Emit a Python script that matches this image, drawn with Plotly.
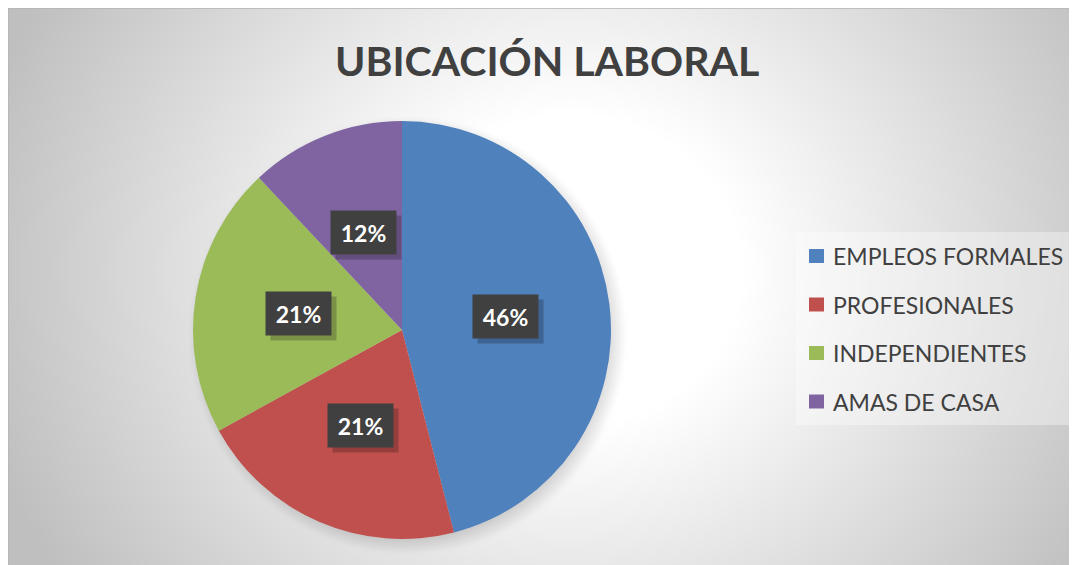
import numpy as np
import plotly.graph_objects as go

# ---- data ----
categories = ["EMPLEOS FORMALES", "PROFESIONALES", "INDEPENDIENTES", "AMAS DE CASA"]
values = [46, 21, 21, 12]
colors = ["#4F81BD", "#C0504D", "#9BBB59", "#8064A2"]
title_text = "UBICACIÓN LABORAL"

# ---- layout constants (page pixel coordinates) ----
VW, VH = 1077, 565         # browser viewport
OFF = 8                    # default page body margin
FW, FH = VW - OFF, VH - OFF  # figure size
CX, CY, R = 402, 330, 209  # pie centre / radius (page px)
FONT = "Lato, 'Open Sans', sans-serif"
TXT = "#404040"

# ---- background radial gradient (+ soft pie shadow) ----
xs = np.arange(OFF, VW + 4, 4.0)
ys = np.arange(OFF, VH + 4, 4.0)
XX, YY = np.meshgrid(xs, ys)
d = np.hypot(XX - 570, (YY - 270) * 1.1)
g = 255 - 64 * np.clip((d - 170) / 440, 0, 1)
ds = np.hypot(XX - (CX + 5), YY - (CY + 5))
shadow = 40 * np.clip((R + 10 - ds) / 20, 0, 1)
g = g - shadow

fig = go.Figure()
fig.add_trace(go.Heatmap(
    x=xs, y=ys, z=g, zmin=0, zmax=255,
    colorscale=[[0, "rgb(0,0,0)"], [1, "rgb(255,255,255)"]],
    showscale=False, hoverinfo="skip", zsmooth="best",
))

# ---- pie ----
dom_x = [(CX - R - OFF) / FW, (CX + R - OFF) / FW]
dom_y = [1 - (CY + R - OFF) / FH, 1 - (CY - R - OFF) / FH]
fig.add_trace(go.Pie(
    labels=categories, values=values, sort=False, direction="clockwise",
    rotation=0, marker=dict(colors=colors, line=dict(width=0)),
    textinfo="none", showlegend=False, domain=dict(x=dom_x, y=dom_y),
))

annotations = []
shapes = []

# data labels at half radius along slice bisector
total = float(sum(values))
cum = 0.0
for v in values:
    mid = (cum + v / 2) / total * 2 * np.pi
    cum += v
    lx = CX + 0.5 * R * np.sin(mid)
    ly = CY - 0.5 * R * np.cos(mid)
    label = f"{round(v / total * 100)}%"
    annotations.append(dict(
        x=lx + 5, y=ly + 5, xref="x", yref="y", text="", showarrow=False,
        width=63, height=41, bgcolor="rgba(0,0,0,0.22)",
    ))
    annotations.append(dict(
        x=lx, y=ly, xref="x", yref="y", text=f"<b>{label}</b>", showarrow=False,
        width=63, height=41, bgcolor="#404040",
        font=dict(family=FONT, size=23, color="white"),
    ))

# legend (custom)
shapes.append(dict(type="rect", xref="x", yref="y", x0=796, x1=1071, y0=232, y1=425,
                   fillcolor="rgba(255,255,255,0.35)", line=dict(width=0), layer="above"))
leg_y0, leg_dy = 256, 48.5
for i, (cat, col) in enumerate(zip(categories, colors)):
    yy = leg_y0 + i * leg_dy
    shapes.append(dict(type="rect", xref="x", yref="y", x0=809, x1=824, y0=yy - 7, y1=yy + 7,
                       fillcolor=col, line=dict(width=0), layer="above"))
    annotations.append(dict(
        x=831, y=yy, xref="x", yref="y", text=cat, showarrow=False,
        xanchor="left", yanchor="middle",
        font=dict(family=FONT, size=23, color=TXT),
    ))

# title
annotations.append(dict(
    x=547, y=60, xref="x", yref="y", text=f"<b>{title_text}</b>", showarrow=False,
    xanchor="center", yanchor="middle",
    font=dict(family=FONT, size=41, color=TXT),
))

# chart-area border (left / top edges)
shapes.append(dict(type="line", xref="x", yref="y", x0=OFF, x1=OFF, y0=OFF, y1=VH,
                   line=dict(color="#b4b4b4", width=1.5), layer="above"))
shapes.append(dict(type="line", xref="x", yref="y", x0=OFF, x1=VW, y0=OFF, y1=OFF,
                   line=dict(color="#b4b4b4", width=1.5), layer="above"))

fig.update_layout(
    width=FW, height=FH,
    margin=dict(l=0, r=0, t=0, b=0),
    paper_bgcolor="white", plot_bgcolor="white",
    xaxis=dict(range=[OFF, VW], visible=False, fixedrange=True),
    yaxis=dict(range=[VH, OFF], visible=False, fixedrange=True),
    annotations=annotations, shapes=shapes, showlegend=False,
)

fig.write_html("out.html")
